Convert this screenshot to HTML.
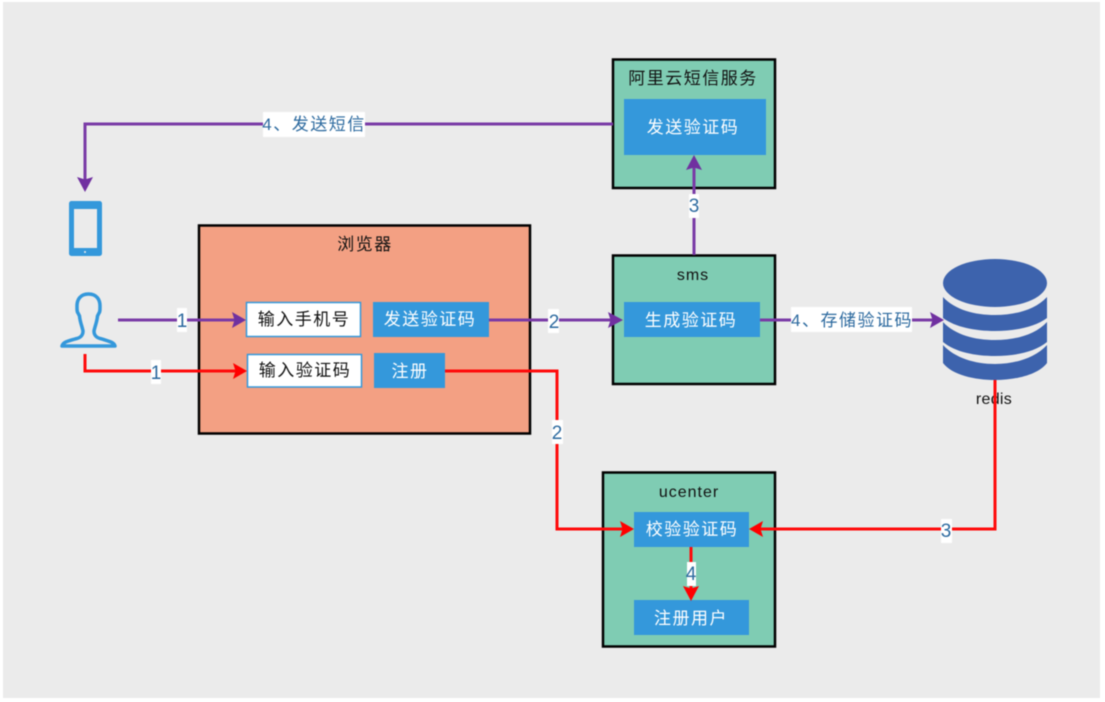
<!DOCTYPE html>
<html>
<head>
<meta charset="utf-8">
<style>
html,body{margin:0;padding:0;background:#fff;width:1105px;height:702px;overflow:hidden}
svg{display:block;filter:blur(.4px)}
text{font-family:"Liberation Sans","WenQuanYi Zen Hei","Noto Sans CJK SC",sans-serif;font-size:17px;text-anchor:middle;letter-spacing:1.5px}
.b{fill:#111}
.w{fill:#fff}
.l{fill:#2d6a9f}
.d{font-size:19px;letter-spacing:0}
.box{stroke:#000;stroke-width:2.5}
.blue{fill:#3498db}
.pu{fill:none;stroke:#7a3aa6;stroke-width:3}
.re{fill:none;stroke:#ff0a0a;stroke-width:3}
.pa{fill:#7030a0}
.ra{fill:#ff0000}
</style>
</head>
<body>
<svg width="1105" height="702" viewBox="0 0 1105 702" xmlns="http://www.w3.org/2000/svg">
<rect x="3" y="2" width="1097" height="696" fill="#ebebeb"/>

<!-- containers -->
<rect class="box" x="199" y="225.500" width="331" height="208" fill="#f3a083"/>
<rect class="box" x="613" y="59.500" width="162" height="128.500" fill="#7fccb3"/>
<rect class="box" x="613" y="255.500" width="162" height="128.500" fill="#7fccb3"/>
<rect class="box" x="603" y="472.500" width="172" height="174" fill="#7fccb3"/>

<text class="b" x="365" y="250">浏览器</text>
<text class="b" x="693" y="84">阿里云短信服务</text>
<text class="b" x="693" y="280" style="font-size:16px;letter-spacing:1px">sms</text>
<text class="b" x="689" y="497" style="font-size:16px;letter-spacing:1px">ucenter</text>

<!-- inner boxes -->
<rect x="246.500" y="302.500" width="114" height="34" fill="#fff" stroke="#3498db" stroke-width="1.500"/>
<rect x="247.500" y="354.500" width="114" height="32.500" fill="#fff" stroke="#3498db" stroke-width="1.500"/>
<rect class="blue" x="373" y="302" width="116" height="35"/>
<rect class="blue" x="374" y="353" width="71" height="35"/>
<rect class="blue" x="624" y="99" width="142" height="56"/>
<rect class="blue" x="624" y="302" width="136" height="35"/>
<rect class="blue" x="634" y="512" width="115" height="35"/>
<rect class="blue" x="634" y="600" width="115" height="35"/>

<text class="b" x="304" y="325">输入手机号</text>
<text class="b" x="305" y="376">输入验证码</text>
<text class="w" x="430" y="325">发送验证码</text>
<text class="w" x="410" y="377">注册</text>
<text class="w" x="693" y="133">发送验证码</text>
<text class="w" x="691" y="326">生成验证码</text>
<text class="w" x="692" y="535">校验验证码</text>
<text class="w" x="691" y="624">注册用户</text>

<!-- phone -->
<rect x="69" y="201" width="33" height="55" rx="2.500" fill="#3498db"/>
<rect x="74" y="209" width="23" height="39" fill="#ebebeb"/>
<circle cx="85" cy="252" r="1" fill="#ebebeb"/>

<!-- person -->
<path d="M88.500 294 C80 294 77 300 77 306 C77 310 77 312 78 313 L79.500 316 C80 322 82 326 83 331 C83 336 80 338 75 339 C68 341 63 342 62 346 L115 346 C114 342 108 341 102 339 C97 338 94 336 94 331 C95 326 97 322 97.500 316 L99 313 C100 312 100 310 100 306 C100 300 97 294 88.500 294Z" fill="none" stroke="#3498db" stroke-width="3.500" stroke-linejoin="round"/>

<!-- redis -->
<g fill="#3d63ad">
<ellipse cx="995" cy="283" rx="52" ry="24"/>
<path d="M943 297 C955 310 975 315 995 315 C1015 315 1035 310 1047 297 L1047 318 C1035 327 1015 331 995 331 C975 331 955 327 943 318Z"/>
<path d="M943 322 C955 335 975 340 995 340 C1015 340 1035 335 1047 322 L1047 342 C1035 352 1015 356 995 356 C975 356 955 352 943 342Z"/>
<path d="M943 345 C955 358 975 364 995 364 C1015 364 1035 358 1047 345 L1047 363 C1038 375 1015 380 995 380 C975 380 952 375 943 363Z"/>
</g>
<text x="994" y="404" style="font-size:16px;letter-spacing:.3px" class="b">redis</text>

<!-- connectors -->
<path class="pu" d="M613 124 H85 V180"/>
<path class="pa" d="M85 192 L77 177 L85 179.500 L93 177Z"/>
<path class="pu" d="M118 320 H236"/>
<path class="pa" d="M246 320 L232 312 L234.500 320 L232 328Z"/>
<path class="re" d="M85 354 V371 H236"/>
<path class="ra" d="M247 371 L233 363 L235.500 371 L233 379Z"/>
<path class="pu" d="M489 320 H612"/>
<path class="pa" d="M623 320 L608 312 L610.500 320 L608 328Z"/>
<path class="pu" d="M694 255 V166"/>
<path class="pa" d="M694 155 L686 170 L694 167.500 L702 170Z"/>
<path class="pu" d="M760 320 H933"/>
<path class="pa" d="M944 320 L930 312 L932.500 320 L930 328Z"/>
<path class="re" d="M445 371 H557 V529 H623"/>
<path class="ra" d="M634 529 L620 521 L622.500 529 L620 537Z"/>
<path class="re" d="M995 380 V529 H760"/>
<path class="ra" d="M749 529 L763 521 L760.500 529 L763 537Z"/>
<path class="re" d="M691 547 V590"/>
<path class="ra" d="M691 601 L683 586 L691 588.500 L699 586Z"/>

<!-- labels -->
<rect x="263" y="112" width="102" height="25" fill="#fff"/>
<text class="l" x="314" y="130">4、发送短信</text>
<rect x="177" y="308" width="10" height="24" fill="#fff"/>
<text class="l d" x="182" y="327">1</text>
<rect x="151" y="360" width="10" height="24" fill="#fff"/>
<text class="l d" x="156" y="379">1</text>
<rect x="548" y="309" width="11" height="24" fill="#fff"/>
<text class="l d" x="554" y="328">2</text>
<rect x="552" y="420" width="11" height="24" fill="#fff"/>
<text class="l d" x="557" y="439">2</text>
<rect x="689" y="194" width="10" height="24" fill="#fff"/>
<text class="l d" x="694" y="212">3</text>
<rect x="791" y="307" width="121" height="25" fill="#fff"/>
<text class="l" x="852" y="326">4、存储验证码</text>
<rect x="941" y="519" width="11" height="24" fill="#fff"/>
<text class="l d" x="946" y="537">3</text>
<rect x="687" y="562" width="9" height="24" fill="#fff"/>
<text class="l d" x="691" y="580">4</text>
</svg>
</body>
</html>
